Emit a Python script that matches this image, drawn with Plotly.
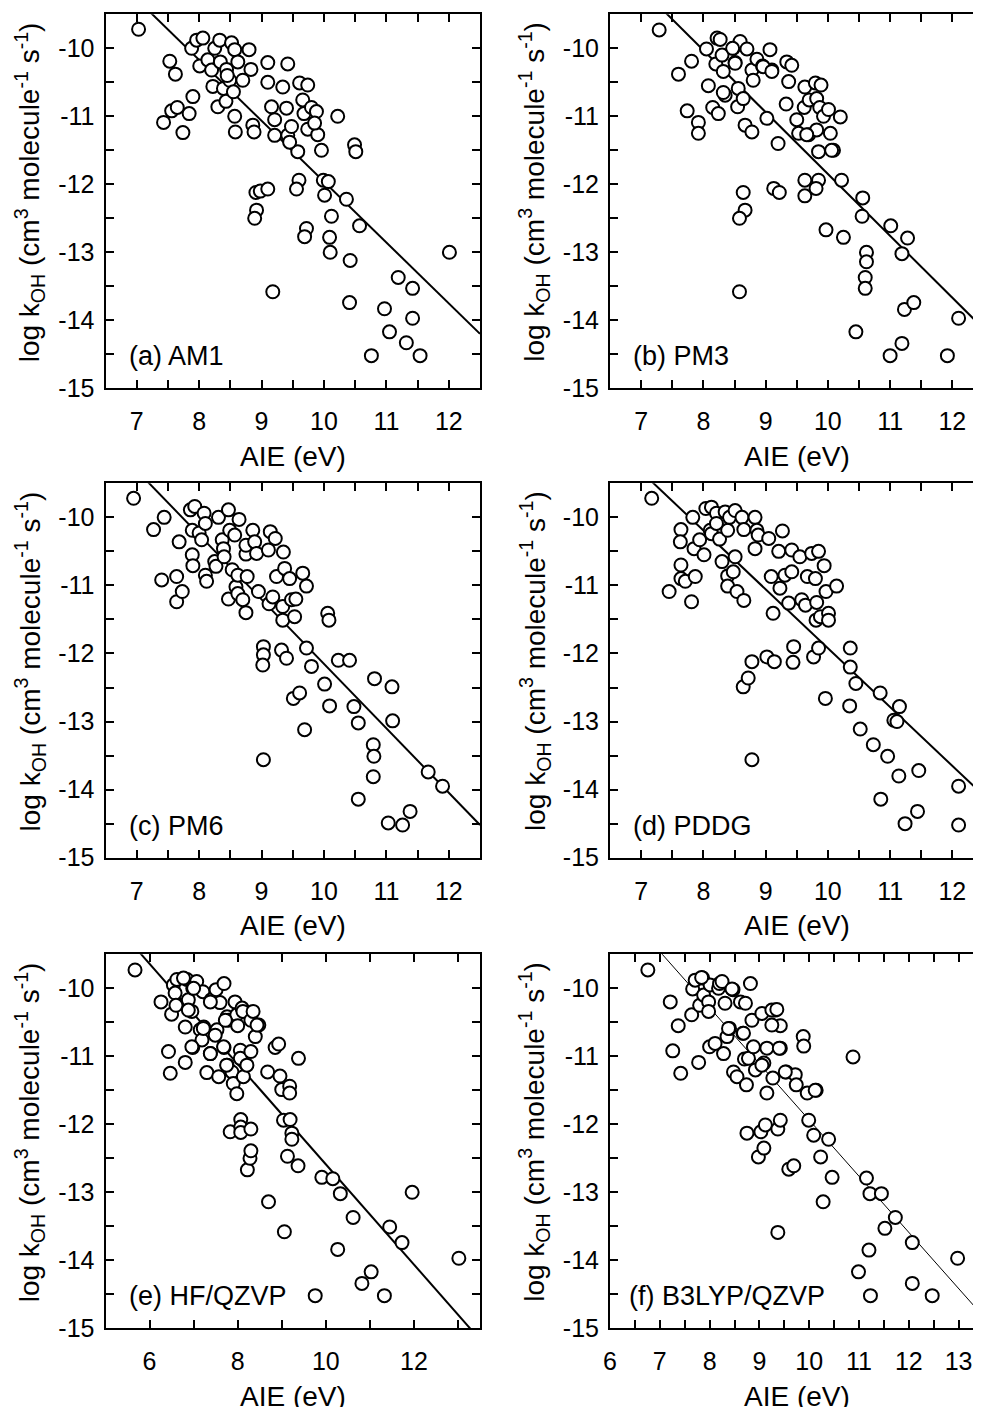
import plotly.graph_objects as go

# (a) AM1
am1_aie = [7.03, 7.43, 7.53, 7.62, 7.56, 7.65, 7.74, 7.84, 7.90, 7.88, 7.96, 8.06, 8.01, 8.14, 8.20, 8.22,
           8.25, 8.30, 8.33, 8.34, 8.39, 8.43, 8.44, 8.49, 8.52, 8.55, 8.57, 8.57, 8.58, 8.62, 8.70, 8.80,
           8.83, 8.86, 8.88, 8.91, 8.98, 8.92, 8.89, 9.10, 9.10, 9.10, 9.16, 9.21, 9.21, 9.18, 9.34, 9.42,
           9.40, 9.42, 9.48, 9.58, 9.60, 9.56, 9.61, 9.66, 9.68, 9.74, 9.80, 9.74, 9.88, 9.90, 9.96, 9.72,
           9.69, 9.99, 10.07, 10.01, 10.09, 10.12, 10.10, 10.22, 10.36, 10.42, 10.41, 10.49, 10.51, 10.57,
           10.76, 10.97, 11.05, 11.19, 11.32, 11.42, 11.42, 11.54, 12.01, 8.45, 9.85, 9.45]
am1_logk = [-9.72, -11.09, -10.19, -10.38, -10.92, -10.87, -11.24, -10.96, -10.71, -10.00, -9.88, -9.85,
            -10.26, -10.17, -10.32, -10.56, -10.00, -10.86, -9.88, -10.20, -10.59, -10.78, -10.31, -10.47,
            -9.92, -10.64, -10.02, -11.00, -11.23, -10.20, -10.47, -10.02, -10.31, -11.13, -11.23, -12.12,
            -12.10, -12.38, -12.50, -12.07, -10.21, -10.50, -10.86, -11.05, -11.28, -13.58, -10.57, -10.23,
            -10.88, -11.28, -11.15, -11.52, -11.94, -12.07, -10.51, -10.76, -10.96, -10.54, -10.87, -11.19,
            -10.93, -11.27, -11.50, -12.65, -12.77, -11.94, -11.96, -12.16, -12.78, -12.47, -13.00, -11.00,
            -12.22, -13.12, -13.74, -11.42, -11.52, -12.61, -14.52, -13.83, -14.17, -13.37, -14.33, -13.53,
            -13.97, -14.52, -13.00, -10.40, -11.10, -11.38]

# (b) PM3
pm3_aie = [7.29, 7.60, 7.74, 7.81, 7.92, 7.92, 8.05, 8.08, 8.15, 8.20, 8.24, 8.22, 8.27, 8.30, 8.32, 8.35,
           8.32, 8.48, 8.51, 8.59, 8.56, 8.55, 8.64, 8.67, 8.70, 8.78, 8.78, 8.80, 8.86, 8.95, 9.02, 9.07,
           9.10, 9.13, 9.22, 9.20, 8.64, 8.67, 8.58, 8.58, 9.34, 9.42, 9.37, 9.33, 9.50, 9.53, 9.63, 9.62,
           9.70, 9.69, 9.80, 9.89, 9.82, 9.87, 9.82, 9.93, 9.85, 10.01, 10.04, 10.09, 10.20, 9.63, 9.63,
           9.85, 9.81, 9.97, 10.22, 10.25, 10.45, 10.56, 10.55, 10.62, 10.62, 10.60, 10.60, 11.00, 11.01,
           11.19, 11.23, 11.19, 11.28, 11.38, 11.92, 12.10, 8.47, 8.96, 9.10, 9.66, 10.06, 8.51]
pm3_logk = [-9.73, -10.38, -10.92, -10.19, -11.09, -11.25, -10.01, -10.55, -10.87, -10.23, -10.96, -9.85,
            -9.87, -10.10, -10.34, -10.69, -10.65, -10.00, -10.21, -9.90, -10.59, -10.86, -10.74, -11.13,
            -10.01, -11.23, -10.32, -10.47, -10.16, -10.26, -11.03, -10.02, -10.32, -12.06, -12.12, -11.40,
            -12.12, -12.38, -12.50, -13.58, -10.20, -10.25, -10.49, -10.82, -11.05, -11.25, -10.57, -10.87,
            -10.76, -11.27, -10.51, -10.54, -10.74, -10.87, -11.20, -11.00, -11.52, -10.90, -11.25, -11.50,
            -11.01, -11.94, -12.17, -11.94, -12.06, -12.67, -11.94, -12.78, -14.17, -12.20, -12.47, -13.00,
            -13.14, -13.37, -13.53, -14.52, -12.61, -13.02, -13.84, -14.34, -12.79, -13.74, -14.52, -13.97,
            -10.00, -10.27, -10.34, -11.27, -11.50, -10.22]

# (c) PM6
pm6_aie = [6.95, 7.27, 7.44, 7.40, 7.64, 7.64, 7.73, 7.68, 7.86, 7.93, 7.89, 7.89, 7.90, 8.00, 8.04, 8.08,
           8.10, 8.10, 8.12, 8.25, 8.27, 8.31, 8.37, 8.39, 8.40, 8.47, 8.49, 8.47, 8.53, 8.57, 8.59, 8.62,
           8.64, 8.62, 8.70, 8.75, 8.75, 8.75, 8.77, 8.86, 8.89, 8.92, 8.95, 9.03, 9.03, 9.02, 9.03, 9.11,
           9.14, 9.12, 9.18, 9.22, 9.24, 9.32, 9.34, 9.35, 9.34, 9.37, 9.40, 9.45, 9.48, 9.51, 9.53, 9.55,
           9.61, 9.66, 9.72, 9.69, 9.72, 9.80, 10.01, 10.06, 10.08, 10.09, 10.23, 10.41, 10.48, 10.55,
           10.55, 10.81, 10.79, 10.80, 10.79, 11.03, 11.09, 11.10, 11.26, 11.38, 11.67, 11.90]
pm6_logk = [-9.72, -10.18, -10.00, -10.92, -10.87, -11.24, -11.09, -10.36, -9.89, -9.84, -10.19, -10.55,
            -10.71, -10.23, -10.33, -9.94, -10.09, -10.85, -10.94, -10.65, -10.72, -10.00, -10.33, -10.46,
            -10.58, -9.89, -10.19, -11.20, -10.77, -10.26, -11.02, -10.85, -10.03, -11.12, -11.21, -10.54,
            -10.41, -11.40, -10.87, -10.19, -10.36, -10.53, -11.09, -11.90, -12.02, -12.17, -13.56, -10.48,
            -10.21, -11.27, -11.17, -10.31, -10.87, -11.95, -11.31, -10.51, -11.51, -10.75, -12.07, -10.90,
            -11.21, -12.66, -11.46, -11.20, -12.58, -10.82, -11.01, -13.12, -11.92, -12.19, -12.45, -11.41,
            -11.51, -12.77, -12.10, -12.10, -12.78, -13.02, -14.14, -12.37, -13.34, -13.51, -13.81, -14.49,
            -12.49, -12.99, -14.52, -14.32, -13.74, -13.95]

# (d) PDDG
pddg_aie = [7.17, 7.45, 7.64, 7.63, 7.64, 7.64, 7.71, 7.81, 7.83, 7.87, 7.85, 7.94, 8.01, 8.04, 8.13, 8.11,
            8.13, 8.21, 8.21, 8.26, 8.30, 8.35, 8.39, 8.39, 8.42, 8.39, 8.48, 8.51, 8.51, 8.54, 8.62, 8.65,
            8.65, 8.64, 8.72, 8.78, 8.78, 8.83, 8.83, 8.86, 8.88, 9.02, 9.05, 9.09, 9.12, 9.14, 9.21, 9.23,
            9.27, 9.31, 9.37, 9.42, 9.42, 9.45, 9.44, 9.55, 9.58, 9.64, 9.67, 9.74, 9.77, 9.80, 9.81, 9.82,
            9.85, 9.85, 9.88, 9.94, 9.96, 9.97, 10.01, 10.01, 10.14, 10.36, 10.36, 10.35, 10.45, 10.52,
            10.73, 10.84, 10.85, 10.96, 11.06, 11.11, 11.15, 11.14, 11.24, 11.44, 11.46, 12.10, 12.10]
pddg_logk = [-9.72, -11.09, -10.18, -10.36, -10.70, -10.90, -10.94, -11.24, -10.00, -10.87, -10.46, -10.33,
             -10.55, -9.87, -9.85, -10.19, -10.24, -9.94, -10.09, -10.32, -10.65, -9.92, -10.19, -10.86,
             -10.00, -11.01, -10.80, -10.58, -9.90, -11.09, -10.00, -10.18, -11.22, -12.49, -12.36, -12.12,
             -13.56, -10.00, -10.46, -10.19, -10.26, -12.05, -10.31, -10.87, -11.41, -12.12, -10.50, -11.04,
             -10.20, -10.85, -11.26, -10.80, -10.48, -11.90, -12.13, -10.58, -11.21, -11.29, -10.87, -10.53,
             -12.05, -10.90, -11.51, -11.25, -10.50, -11.92, -11.46, -10.71, -12.66, -11.09, -11.41, -11.51,
             -11.01, -11.92, -12.20, -12.77, -12.44, -13.11, -13.34, -12.58, -14.14, -13.51, -12.98, -13.00,
             -12.78, -13.80, -14.50, -14.32, -13.72, -13.95, -14.52]

# (e) HF/QZVP
hf_aie = [5.67, 6.26, 6.43, 6.47, 6.50, 6.54, 6.58, 6.60, 6.62, 6.81, 6.81, 6.85, 6.88, 6.96, 6.98, 6.98,
          7.07, 7.15, 7.19, 7.21, 7.23, 7.30, 7.38, 7.40, 7.51, 7.53, 7.57, 7.60, 7.69, 7.69, 7.76, 7.76,
          7.79, 7.83, 7.87, 7.90, 7.94, 7.98, 7.98, 8.00, 8.06, 8.06, 8.07, 8.07, 8.07, 8.10, 8.12, 8.13,
          8.21, 8.22, 8.28, 8.30, 8.30, 8.30, 8.30, 8.35, 8.40, 8.48, 8.68, 8.70, 8.85, 8.93, 8.96, 9.00,
          9.04, 9.06, 9.13, 9.18, 9.18, 9.19, 9.23, 9.23, 9.37, 9.38, 9.76, 9.91, 10.16, 10.33, 10.27,
          10.62, 10.82, 11.03, 11.33, 11.45, 11.73, 11.96, 13.02, 6.77, 7.00, 7.38, 6.88, 8.44, 7.72,
          7.22, 7.49, 6.96, 7.38, 7.68, 7.75]
hf_logk = [-9.73, -10.20, -10.93, -11.25, -10.38, -9.95, -10.07, -10.25, -9.87, -11.09, -10.57, -9.87,
           -10.17, -10.34, -10.00, -10.87, -9.90, -10.61, -10.76, -10.05, -10.57, -11.24, -10.96, -10.17,
           -10.02, -10.61, -11.30, -10.21, -10.87, -9.93, -11.13, -10.42, -10.47, -12.11, -11.23, -11.40,
           -10.20, -10.39, -11.55, -10.55, -10.91, -11.03, -11.93, -12.04, -12.12, -10.29, -10.34, -11.30,
           -11.13, -12.67, -12.50, -12.39, -12.07, -10.47, -10.93, -10.34, -10.71, -10.54, -11.23, -13.14,
           -10.87, -10.82, -11.29, -11.49, -11.94, -13.58, -12.47, -11.44, -11.54, -11.93, -12.13, -12.22,
           -12.61, -11.03, -14.52, -12.78, -12.80, -13.02, -13.84, -13.37, -14.34, -14.17, -14.52, -13.51,
           -13.74, -13.00, -13.97, -9.85, -10.00, -10.20, -10.32, -10.54, -10.47, -10.59, -10.69, -10.86,
           -10.96, -10.86, -11.13]

# (f) B3LYP/QZVP
b3lyp_aie = [6.76, 7.21, 7.26, 7.37, 7.42, 7.64, 7.66, 7.71, 7.78, 7.80, 7.86, 7.88, 7.98, 7.98, 8.00, 8.01,
             8.11, 8.18, 8.20, 8.28, 8.31, 8.35, 8.40, 8.47, 8.48, 8.55, 8.62, 8.67, 8.70, 8.72, 8.74, 8.75,
             8.78, 8.82, 8.85, 8.88, 8.92, 8.98, 9.03, 9.09, 9.09, 9.05, 9.12, 9.15, 9.15, 9.27, 9.32, 9.37,
             9.37, 9.42, 9.42, 9.42, 9.54, 9.59, 9.69, 9.72, 9.74, 9.88, 9.89, 9.96, 9.99, 10.09, 10.14,
             10.23, 10.28, 10.39, 10.46, 10.88, 10.99, 11.15, 11.22, 11.20, 11.23, 11.45, 11.52, 11.73,
             12.07, 12.07, 12.47, 12.98, 7.84, 8.25, 8.45, 9.25, 9.35, 9.25, 8.38, 8.68, 9.40, 9.05, 9.52,
             10.12]
b3lyp_logk = [-9.73, -10.20, -10.92, -10.55, -11.25, -10.39, -10.01, -9.88, -11.09, -10.25, -9.85, -10.10,
              -10.20, -10.34, -10.86, -9.95, -10.81, -10.00, -9.93, -10.96, -10.22, -10.71, -10.59, -10.02,
              -11.23, -11.30, -10.20, -10.66, -11.04, -10.22, -11.42, -12.13, -11.03, -9.93, -10.47, -10.86,
              -11.20, -12.48, -12.11, -12.35, -11.10, -10.37, -12.01, -11.54, -10.88, -11.32, -10.32, -13.59,
              -12.07, -11.94, -10.55, -10.88, -11.23, -12.66, -12.61, -11.27, -11.42, -10.71, -10.85, -11.54,
              -11.94, -12.16, -11.50, -12.48, -13.14, -12.22, -12.78, -11.01, -14.17, -12.79, -13.02, -13.85,
              -14.52, -13.02, -13.53, -13.37, -13.74, -14.34, -14.52, -13.97, -9.84, -9.90, -10.01, -10.32,
              -10.31, -10.54, -10.59, -10.66, -10.88, -11.13, -11.23, -11.50]

panel_labels = ["(a) AM1", "(b) PM3", "(c) PM6", "(d) PDDG", "(e) HF/QZVP", "(f) B3LYP/QZVP"]
panel_aie = [am1_aie, pm3_aie, pm6_aie, pddg_aie, hf_aie, b3lyp_aie]
panel_logk = [am1_logk, pm3_logk, pm6_logk, pddg_logk, hf_logk, b3lyp_logk]

# linear fits: log kOH = slope * AIE + intercept
fit_slope = [-0.895, -0.91, -0.947, -0.865, -0.737, -0.826]
fit_intercept = [-3.011, -2.748, -2.682, -3.272, -5.218, -3.677]

x_ranges = [(6.5, 12.5), (6.5, 12.5), (6.5, 12.5), (6.5, 12.5), (5, 13.5), (6, 13.5)]
x_minor = [0.5, 0.5, 0.5, 0.5, 1, 0.5]
x_label_step = [1, 1, 1, 1, 2, 1]
y_range = (-15, -9.5)

# page is 981x1407; the html body adds an 8 px margin, so the figure is shifted by OFF
PAGE_W, PAGE_H = 981, 1407
OFF = 8
W, H = PAGE_W - OFF, PAGE_H - OFF
FONT = "Liberation Sans, Arial, sans-serif"

# plot boxes in page pixels (left, right, top, bottom); right column runs past the page edge
col_lr = [(105.5, 480.0), (610.0, 983.5)]
row_tb = [(14.3, 388.3), (483.3, 857.7), (954.3, 1328.3)]


def px(x):
    return (x - OFF) / W


def py(y):
    return 1 - (y - OFF) / H


def frange(a, b, step):
    out = []
    v = a
    while v <= b + 1e-9:
        out.append(round(v, 3))
        v += step
    return out


fig = go.Figure()
annotations = []

for i in range(6):
    row, col = divmod(i, 2)
    left, right = col_lr[col]
    top, bottom = row_tb[row]
    lo, hi = x_ranges[i]
    vis_right = min(right, PAGE_W)
    vis_hi = lo + (hi - lo) * (vis_right - left) / (right - left)

    xa = "x" if i == 0 else f"x{i + 1}"
    ya = "y" if i == 0 else f"y{i + 1}"

    fx = [lo, vis_hi]
    fy = [fit_slope[i] * v + fit_intercept[i] for v in fx]
    fig.add_trace(go.Scatter(x=fx, y=fy, mode="lines", xaxis=xa, yaxis=ya,
                             line=dict(color="black", width=1 if i == 5 else 2),
                             showlegend=False, hoverinfo="skip"))
    fig.add_trace(go.Scatter(x=panel_aie[i], y=panel_logk[i], mode="markers", xaxis=xa, yaxis=ya,
                             marker=dict(symbol="circle", size=13, color="white",
                                         line=dict(color="black", width=2)),
                             showlegend=False))

    step = x_label_step[i]
    xt = frange(lo, hi, x_minor[i])
    xtext = []
    for v in xt:
        whole = abs(v - round(v)) < 1e-6 and int(round(v)) % step == 0
        xtext.append(str(int(round(v))) if whole and (v > lo + 1e-6 or i == 5) else "")
    yt = frange(-15, -9.5, 0.5)
    ytext = [str(int(round(v))) if abs(v - round(v)) < 1e-6 and v <= -10 else "" for v in yt]

    common = dict(ticks="inside", ticklen=8, tickwidth=2, tickcolor="black",
                  showline=True, linewidth=2, linecolor="black", mirror="ticks",
                  showgrid=False, zeroline=False, automargin=False, fixedrange=True,
                  tickfont=dict(family=FONT, size=25, color="black"), tickmode="array")
    fig.layout[("xaxis" if i == 0 else f"xaxis{i + 1}")] = dict(
        common, domain=[px(left), px(vis_right)], range=[lo, vis_hi], anchor=ya,
        tickvals=xt, ticktext=xtext, ticklabelstandoff=10)
    fig.layout[("yaxis" if i == 0 else f"yaxis{i + 1}")] = dict(
        common, domain=[py(bottom), py(top)], range=list(y_range), anchor=xa,
        tickvals=yt, ticktext=ytext, ticklabelstandoff=4)

    annotations.append(dict(text="AIE (eV)", x=px((left + right) / 2), y=py(bottom + 68),
                            xref="paper", yref="paper", showarrow=False,
                            xanchor="center", yanchor="middle",
                            font=dict(family=FONT, size=28, color="black")))
    annotations.append(dict(text="log k<sub>OH</sub> (cm<sup>3</sup> molecule<sup>-1</sup> s<sup>-1</sup>)",
                            x=px(left - 75.5), y=py((top + bottom) / 2 - 9),
                            xref="paper", yref="paper", showarrow=False, textangle=-90,
                            xanchor="center", yanchor="middle",
                            font=dict(family=FONT, size=28, color="black")))
    annotations.append(dict(text=panel_labels[i], x=px(left + (17 if i == 5 else 21)),
                            y=py(bottom - 32), xref="paper", yref="paper", showarrow=False,
                            xanchor="left", yanchor="middle",
                            font=dict(family=FONT, size=27, color="black")))

fig.update_layout(width=W, height=H, margin=dict(l=0, r=0, t=0, b=0),
                  paper_bgcolor="white", plot_bgcolor="white",
                  annotations=annotations, template="none")

fig.write_html("out.html")
